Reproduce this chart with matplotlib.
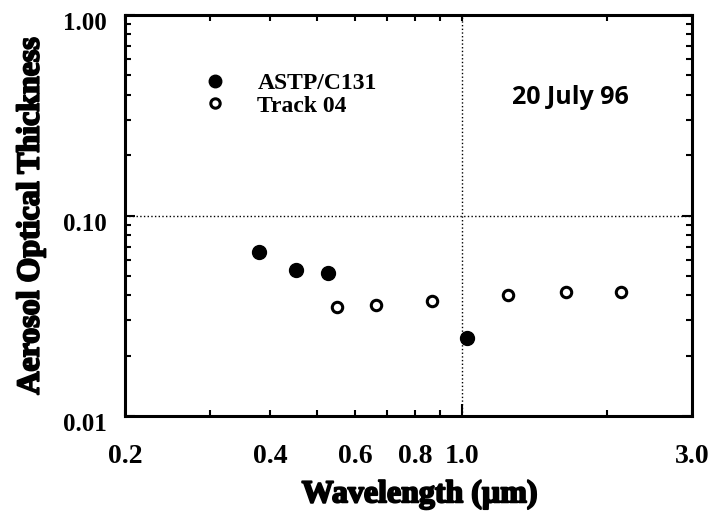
import matplotlib
matplotlib.use('Agg')
import matplotlib.pyplot as plt
import matplotlib.transforms as mtrans
import matplotlib.patheffects as pe
from matplotlib.ticker import FixedLocator, NullFormatter

# ASTP/C131 sun photometer
astp_wl = [0.380, 0.453, 0.527, 1.026]
astp_tau = [0.0655, 0.0535, 0.0517, 0.0245]
# Track 04
trk_wl = [0.551, 0.662, 0.866, 1.246, 1.646, 2.14]
trk_tau = [0.0351, 0.0359, 0.0376, 0.0403, 0.0414, 0.0417]

xticks = [0.2, 0.4, 0.6, 0.8, 1.0, 3.0]
xticklabels = ['0.2', '0.4', '0.6', '0.8', '1.0', '3.0']
xminor = [0.3, 0.5, 0.7, 0.9, 2.0]
yticks = [0.01, 0.1, 1.0]
yticklabels = ['0.01', '0.10', '1.00']
yminor = [0.02, 0.03, 0.04, 0.05, 0.06, 0.07, 0.08, 0.09,
          0.2, 0.3, 0.4, 0.5, 0.6, 0.7, 0.8, 0.9]

serif = 'Liberation Serif'

fig = plt.figure(figsize=[7.21, 5.17], dpi=100)
ax = fig.add_axes([0.1734, 0.1953, 0.7864, 0.7757])
ax.set_xscale('log')
ax.set_yscale('log')
ax.set_xlim(0.2, 3.0)
ax.set_ylim(0.01, 1.0)

ax.axhline(0.1, color='k', linestyle=':', linewidth=1, zorder=1)
ax.axvline(1.0, color='k', linestyle=':', linewidth=1, zorder=1)

ax.plot(astp_wl, astp_tau, 'o', color='k', markersize=10, linestyle='none',
        label='ASTP/C131', zorder=3)
ax.plot(trk_wl, trk_tau, 'o', markerfacecolor='white', markeredgecolor='k',
        markersize=7.5, markeredgewidth=2.2, linestyle='none',
        label='Track 04', zorder=3)

ax.xaxis.set_major_locator(FixedLocator(xticks))
ax.xaxis.set_minor_locator(FixedLocator(xminor))
ax.set_xticklabels(xticklabels)
ax.xaxis.set_minor_formatter(NullFormatter())
ax.yaxis.set_major_locator(FixedLocator(yticks))
ax.yaxis.set_minor_locator(FixedLocator(yminor))
ax.set_yticklabels(yticklabels)
ax.yaxis.set_minor_formatter(NullFormatter())

ax.tick_params(which='both', direction='in', top=True, right=True, width=1.5)
ax.tick_params(axis='x', which='major', length=4, pad=20)
ax.tick_params(axis='x', which='minor', length=4)
ax.tick_params(axis='y', which='major', length=7, pad=13)
ax.tick_params(axis='y', which='minor', length=4)
ax.xaxis.get_major_ticks()[4].tick1line.set_markersize(9)

for sp in ax.spines.values():
    sp.set_linewidth(2.2)

for lab in ax.get_xticklabels():
    lab.set_fontfamily(serif)
    lab.set_fontweight('bold')
    lab.set_fontsize(20)
shift = mtrans.ScaledTranslation(0, -0.06, fig.dpi_scale_trans)
for lab in ax.get_yticklabels():
    lab.set_fontfamily(serif)
    lab.set_fontweight('bold')
    lab.set_fontsize(18)
    lab.set_transform(lab.get_transform() + shift)

heavy = [pe.withStroke(linewidth=1.4, foreground='k')]
ax.set_xlabel('Wavelength (µm)', fontfamily=serif, fontweight='bold',
              fontsize=23, path_effects=heavy)
ax.xaxis.set_label_coords(0.52, -0.16)
ax.set_ylabel('Aerosol Optical Thickness', fontfamily=serif,
              fontweight='bold', fontsize=23, path_effects=heavy)
ax.yaxis.set_label_coords(-0.14, 0.5)

ax.text(0.683, 0.795, '20 July 96', transform=ax.transAxes,
        fontfamily='Open Sans', fontweight='bold', fontsize=18,
        ha='left', va='center')

leg = ax.legend(loc='upper left', bbox_to_anchor=(0.1, 0.91),
                frameon=False, handletextpad=1.3, labelspacing=0.05,
                handlelength=1.0, markerscale=0.9,
                prop={'family': serif, 'weight': 'bold', 'size': 17})

fig.savefig('out.png', dpi=100)
